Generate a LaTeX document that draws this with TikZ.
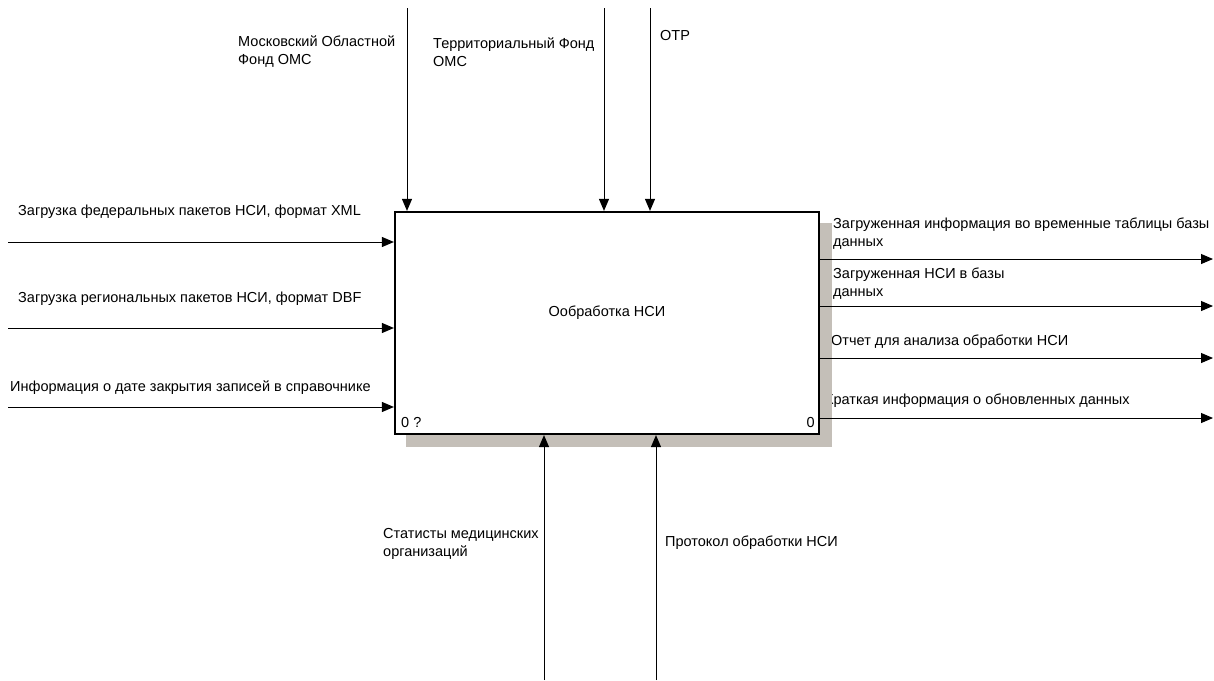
\documentclass[tikz,border=0pt]{standalone}
\usepackage{fontspec}
\setmainfont{Liberation Sans}
\usetikzlibrary{arrows.meta}
\definecolor{shadowc}{RGB}{196,191,184}
\begin{document}
\begin{tikzpicture}[x=1pt,y=-1pt,
  lbl/.style={inner sep=0pt, anchor=west, align=left, font=\fontsize{14.5}{18}\selectfont},
  flow/.style={line width=1pt, -{Triangle[length=12pt,width=10pt]}},
  activity/.style={draw, line width=2.2pt, fill=white, inner sep=0pt,
    minimum width=424pt, minimum height=222pt},
]
\useasboundingbox (0,0) rectangle (1214,680);

% labels of the arrows
\node[lbl] (tin1) at (18,212) {Загрузка федеральных пакетов НСИ, формат XML};
\node[lbl] (tin2) at (18,299) {Загрузка региональных пакетов НСИ, формат DBF};
\node[lbl] (tin3) at (10,388) {Информация о дате закрытия записей в справочнике};
\node[lbl] (tc1) at (238,52) {Московский Областной\\Фонд ОМС};
\node[lbl] (tc2) at (433,52) {Территориальный Фонд\\ОМС};
\node[lbl] (tc3) at (660,36) {ОТР};
\node[lbl] (to1) at (833,234) {Загруженная информация во временные таблицы базы\\данных};
\node[lbl] (to2) at (833,284) {Загруженная НСИ в базы\\данных};
\node[lbl] (to3) at (831,342) {Отчет для анализа обработки НСИ};
\node[lbl] (to4) at (825,401) {Краткая информация о обновленных данных};
\node[lbl] (tm1) at (383,544) {Статисты медицинских\\организаций};
\node[lbl] (tm2) at (665,543) {Протокол обработки НСИ};

% drop shadow of the activity box
\fill[shadowc] (819,223) rectangle (832,447);
\fill[shadowc] (406,434) rectangle (832,447);

% the activity box
\node[activity] (proc) at (607,323) {};
\node[lbl, anchor=center] (ptitle) at (607,313) {Ообработка НСИ};
\node[lbl] (pnum) at (401,423) {0 ?};
\node[lbl, anchor=east] (pref) at (815,423) {0};

% inputs
\coordinate (i1) at (8,242);
\coordinate (i2) at (8,328);
\coordinate (i3) at (8,407);
\draw[flow] (i1) -- (proc.west |- i1);
\draw[flow] (i2) -- (proc.west |- i2);
\draw[flow] (i3) -- (proc.west |- i3);

% controls
\coordinate (c1) at (407,8);
\coordinate (c2) at (604,8);
\coordinate (c3) at (650,8);
\draw[flow] (c1) -- (c1 |- proc.north);
\draw[flow] (c2) -- (c2 |- proc.north);
\draw[flow] (c3) -- (c3 |- proc.north);

% mechanisms
\coordinate (m1) at (544,680);
\coordinate (m2) at (656,680);
\draw[flow] (m1) -- (m1 |- proc.south);
\draw[flow] (m2) -- (m2 |- proc.south);

% outputs
\coordinate (o1) at (1213,259);
\coordinate (o2) at (1213,306);
\coordinate (o3) at (1213,358);
\coordinate (o4) at (1213,418);
\draw[flow] (proc.east |- o1) -- (o1);
\draw[flow] (proc.east |- o2) -- (o2);
\draw[flow] (proc.east |- o3) -- (o3);
\draw[flow] (proc.east |- o4) -- (o4);
\end{tikzpicture}
\end{document}
